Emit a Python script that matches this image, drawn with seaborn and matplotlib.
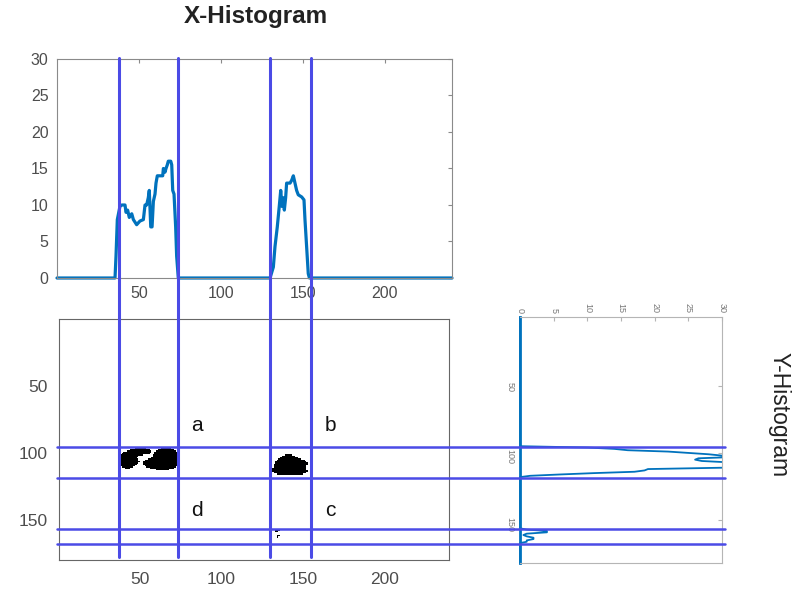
"""
X/Y projection histograms of a binary image, with the segment boundaries
drawn across the image and both profiles.
"""

import numpy as np
import matplotlib
matplotlib.use("Agg")
import matplotlib.pyplot as plt
import matplotlib.transforms as mtransforms
from matplotlib.colors import ListedColormap
import seaborn as sns

sns.set_style("white")
plt.rcParams['font.family'] = ['Liberation Sans', 'DejaVu Sans']

# --- column profile (X-histogram) ---
x_pos = [0, 35.4, 36, 36.8, 38.4, 39.5, 41.5, 42.1, 43.1, 44.1, 45.6, 46.6,
         48.6, 50.6, 52.7, 53.7, 54.7, 55.7, 56.3, 57.2, 58, 58.8, 59.8,
         60.4, 61.2, 62.8, 64.5, 64.9, 65.9, 66.5, 67.3, 67.9, 69.4, 70,
         70.6, 71.4, 72.4, 73, 74,
         130, 132, 133, 134.4, 135.6, 136.5, 137.3, 138.1, 138.7, 139.5,
         140.1, 142.2, 143.2, 144.2, 145.2, 146.2, 147.2, 149.3, 150.7,
         151.3, 152.3, 153.3, 154, 241]
x_count = [0, 0, 3, 8, 9.8, 10, 10, 9, 9.3, 8.3, 8.8, 8,
           7.3, 7.8, 8, 10, 10, 11, 12, 7, 7, 10.5, 11.5,
           13, 14, 14, 14, 15, 14.5, 15, 15.5, 16, 16, 15.5,
           12, 11.5, 7, 3, 0,
           0, 1.5, 4.3, 7, 9.8, 12, 9.8, 11, 9.3, 11,
           13, 13, 13.4, 14, 13, 12, 11.4, 11.1, 10.7,
           8, 4.3, 0.6, 0, 0]

# --- row profile (Y-histogram) ---
y_row = [-1, 95, 96, 97, 98, 99, 100, 101, 102, 103, 104, 105, 106, 107,
         108, 109, 110, 111, 112, 113, 114, 115, 116, 117, 118,
         156, 157, 158, 159, 160, 161, 162, 163, 164, 165, 166, 167, 182]
y_count = [0, 0, 10, 14, 16, 22, 25, 28, 30, 32, 26.5, 26, 27, 31,
           33, 33, 33, 30, 19, 18.5, 17, 11, 6, 1.5, 0,
           0, 1, 4, 4, 1, 0.5, 1, 2, 2, 1, 1, 0, 0]

# segment boundaries
col_edges = [37, 73.6, 129.8, 154.8]
row_edges = [95.6, 118.5, 156.3, 167.6]

# black pixel runs of the binary image: row, first column, last column
run_row = [96, 97, 98, 99, 100, 101, 102, 103, 104, 105, 106, 107, 108, 109, 110, 111,
           96, 97, 98, 99, 100, 101, 102, 103, 104, 105, 106, 107, 108, 109, 110, 111, 112,
           101, 102, 103, 104, 105, 106, 107, 108, 109, 110, 111, 112, 113, 114, 115,
           157, 158, 161, 162]
run_c0 = [47, 44, 42, 40, 39, 38, 37, 37, 37, 37, 37, 37, 38, 38, 39, 41,
          63, 61, 60, 59, 59, 58, 58, 57, 55, 53, 52, 52, 52, 53, 54, 56, 60,
          139, 137, 136, 135, 134, 133, 133, 132, 132, 132, 131, 131, 131, 132, 134,
          133, 133, 134, 134]
run_c1 = [53, 55, 56, 56, 55, 51, 48, 47, 48, 48, 49, 48, 47, 46, 45, 43,
          68, 70, 71, 72, 72, 72, 72, 73, 73, 73, 73, 73, 73, 72, 71, 70, 67,
          142, 144, 146, 148, 150, 151, 152, 152, 151, 151, 151, 151, 152, 151, 149,
          135, 134, 135, 134]

img_rows, img_cols = 180, 240
quad_names = ['a', 'b', 'd', 'c']

line_blue = '#0072BD'
edge_blue = '#4B4BE6'
spine_gray = '#8a8a8a'
label_gray = '#4d4d4d'


def style_box(ax, color, size, pad_x, pad_y):
    """MATLAB-like box: all spines, inward ticks on every side"""
    for s in ax.spines.values():
        s.set_visible(True)
        s.set_color(color)
        s.set_linewidth(0.8)
    ax.tick_params(direction='in', length=3, width=0.8, color=color,
                   top=True, right=True, labelcolor=label_gray, labelsize=size)
    ax.tick_params(axis='x', pad=pad_x)
    ax.tick_params(axis='y', pad=pad_y)


def main():
    fig = plt.figure(figsize=(7.93, 5.92), dpi=100)
    ax_x = fig.add_axes([57 / 793, 1 - 278 / 592, 395 / 793, 219 / 592])
    ax_y = fig.add_axes([520 / 793, 1 - 563 / 592, 202 / 793, 246 / 592])
    ax_img = fig.add_axes([59 / 793, 1 - 560 / 592, 390 / 793, 241 / 592])

    # X histogram
    sns.lineplot(x=x_pos, y=x_count, ax=ax_x, color=line_blue, lw=2.3,
                 sort=False, estimator=None, clip_on=False)
    ax_x.set_xlim(0, 241)
    ax_x.set_ylim(0, 30)
    ax_x.set_xticks([50, 100, 150, 200])
    ax_x.set_yticks(range(0, 31, 5))
    style_box(ax_x, spine_gray, 11.5, 6, 6)

    # Y histogram (rotated profile)
    sns.lineplot(x=y_count, y=y_row, ax=ax_y, color=line_blue, lw=1.3,
                 sort=False, estimator=None)
    ax_y.set_xlim(0, 30)
    ax_y.set_ylim(181.8, -1)
    ax_y.set_xticks(range(0, 31, 5))
    ax_y.set_yticks([50, 100, 150])
    line = ax_y.lines[-1]
    line.set_clip_box(mtransforms.TransformedBbox(
        mtransforms.Bbox([[-0.03, -0.01], [1, 1.01]]), ax_y.transAxes))
    style_box(ax_y, '#b5b5b5', 6.5, 3, 4)
    ax_y.tick_params(axis='x', labeltop=True, labelbottom=False,
                     labelrotation=-90, labelcolor='#777777')
    ax_y.tick_params(axis='y', labelrotation=-90, labelcolor='#777777')
    # the zero line sits on the left spine, draw it thicker
    ax_y.spines['left'].set_color(line_blue)
    ax_y.spines['left'].set_linewidth(2)

    # binary image
    mask = np.zeros((img_rows, img_cols))
    for r, c0, c1 in zip(run_row, run_c0, run_c1):
        mask[r, c0:c1 + 1] = 1
    sns.heatmap(mask, ax=ax_img, cmap=ListedColormap(['white', 'black']),
                vmin=0, vmax=1, cbar=False, xticklabels=False, yticklabels=False)
    ax_img.set_xlim(0.5, 239.5)
    ax_img.set_ylim(179.5, 0.5)
    ax_img.set_xticks([50, 100, 150, 200])
    ax_img.set_xticklabels(['50', '100', '150', '200'])
    ax_img.set_yticks([50, 100, 150])
    ax_img.set_yticklabels(['50', '100', '150'], rotation=0)
    style_box(ax_img, '#666666', 12.5, 9, 8)

    # quadrant letters
    for name, (qx, qy) in zip(quad_names, [(85, 79.3), (166.6, 79.3),
                                           (85, 143.1), (166.6, 143.1)]):
        ax_img.text(qx, qy, name, ha='center', va='center', fontsize=15,
                    color='#111111')

    # boundary lines run through the image and out into both profiles
    for c in col_edges:
        ax_img.axvline(c, ymin=0.012, ymax=(560 - 58) / 241, color=edge_blue,
                       lw=2.2, clip_on=False, zorder=5)
    for r in row_edges:
        ax_img.axhline(r, xmin=-0.005, xmax=(725 - 59) / 390, color=edge_blue,
                       lw=1.8, clip_on=False, zorder=5)

    fig.text(256 / 793, 1 - 17 / 592, 'X-Histogram', ha='center', va='center',
             fontsize=17.5, fontweight='bold', color='#222222')
    fig.text(779 / 793, 1 - 415 / 592, 'Y-Histogram', ha='center', va='center',
             rotation=-90, fontsize=16.5, color='#222222')

    fig.savefig('out.png', dpi=100)


if __name__ == "__main__":
    main()
